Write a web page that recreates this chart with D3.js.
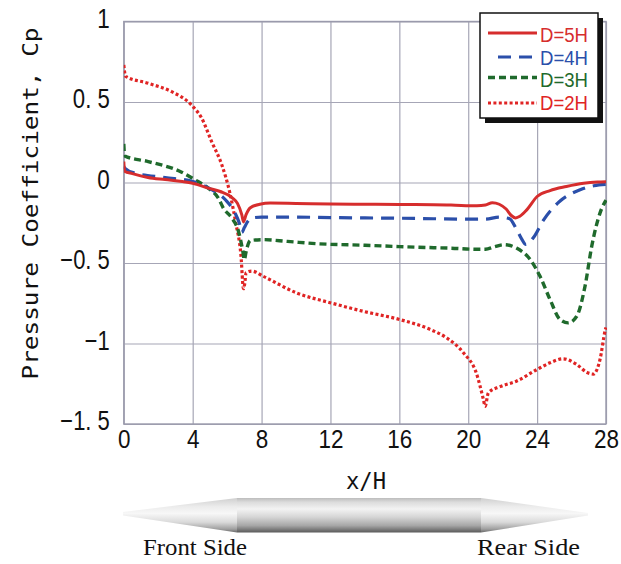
<!DOCTYPE html>
<html>
<head>
<meta charset="utf-8">
<script src="https://cdn.jsdelivr.net/npm/d3@7"></script>
<style>
  html, body { margin: 0; padding: 0; background: #ffffff; }
  svg { display: block; }
</style>
</head>
<body>
<script>
// ---------- DATA ----------
const xTicks = [0, 4, 8, 12, 16, 20, 24, 28];
const xTickLabels = ["0", "4", "8", "12", "16", "20", "24", "28"];
const yTicks = [1, 0.5, 0, -0.5, -1, -1.5];
const yTickLabels = ["1", "0. 5", "0", "\u22120. 5", "\u22121", "\u22121. 5"];
const seriesNames = ["D=5H", "D=4H", "D=3H", "D=2H"];

const d5x = [0, 0.05, 0.5, 1.4, 2.4, 3.4, 4.0, 4.9, 5.6, 6.3, 6.6, 6.85, 6.95, 7.1, 7.35, 7.9, 8.5, 10, 12, 14, 16, 18, 19, 20.5, 21, 21.4, 21.8, 22.2, 22.5, 22.75, 23.0, 23.4, 24.0, 24.75, 25.7, 26.7, 27.5, 28];
const d5y = [0.13, 0.07, 0.055, 0.031, 0.018, 0.006, -0.005, -0.035, -0.056, -0.095, -0.13, -0.2, -0.245, -0.2, -0.157, -0.135, -0.128, -0.13, -0.133, -0.135, -0.137, -0.138, -0.14, -0.145, -0.14, -0.125, -0.135, -0.165, -0.205, -0.22, -0.21, -0.17, -0.087, -0.05, -0.025, -0.005, 0.003, 0.005];

const d4x = [0, 0.05, 0.65, 2.4, 4.0, 5.1, 5.9, 6.46, 6.7, 6.85, 7.0, 7.15, 7.45, 8, 10, 12, 14, 16, 18, 20, 21, 21.8, 22.4, 22.8, 23.1, 23.35, 23.8, 24.36, 25.3, 26.5, 27.3, 28];
const d4y = [0.1, 0.09, 0.058, 0.031, 0.006, -0.045, -0.107, -0.19, -0.25, -0.31, -0.28, -0.25, -0.22, -0.215, -0.215, -0.218, -0.22, -0.222, -0.225, -0.228, -0.228, -0.215, -0.225, -0.29, -0.35, -0.385, -0.34, -0.235, -0.118, -0.045, -0.02, -0.012];

const d3x = [0, 0.05, 1.42, 3.36, 4.13, 4.9, 5.49, 5.78, 6.27, 6.65, 6.9, 7.0, 7.1, 7.35, 8.1, 9.5, 11.2, 14, 16, 18, 19, 20.5, 21, 21.5, 22.1, 22.8, 23.6, 24.17, 24.75, 25.33, 25.8, 26.3, 26.78, 27.17, 27.65, 28];
const d3y = [0.24, 0.165, 0.13, 0.064, 0.017, -0.035, -0.097, -0.159, -0.22, -0.30, -0.42, -0.48, -0.43, -0.36, -0.355, -0.366, -0.38, -0.39, -0.398, -0.405, -0.408, -0.415, -0.415, -0.40, -0.386, -0.407, -0.479, -0.583, -0.727, -0.851, -0.872, -0.831, -0.645, -0.397, -0.19, -0.11];

const d2x = [0, 0.1, 1.42, 2.78, 3.94, 4.52, 5.1, 5.69, 6.17, 6.5, 6.8, 6.95, 7.02, 7.1, 7.43, 8.1, 10.04, 12.03, 13.9, 16.02, 17.8, 18.75, 19.72, 20.49, 20.88, 20.98, 21.17, 21.85, 22.8, 24.0, 24.75, 25.5, 26.3, 26.9, 27.27, 27.65, 27.95, 28];
const d2y = [0.73, 0.66, 0.616, 0.564, 0.48, 0.40, 0.254, 0.11, -0.07, -0.25, -0.45, -0.66, -0.63, -0.56, -0.55, -0.583, -0.686, -0.748, -0.8, -0.851, -0.913, -0.965, -1.058, -1.19, -1.347, -1.39, -1.306, -1.268, -1.234, -1.161, -1.12, -1.095, -1.13, -1.18, -1.19, -1.10, -0.92, -0.90];

// ---------- CHART ----------
const W = 621, H = 564;
const L = 123.8, R = 606, T = 21.5, B = 424;

const svg = d3.select("body").append("svg").attr("width", W).attr("height", H);

const x = d3.scaleLinear().domain([0, 28]).range([L, R]);
const y = d3.scaleLinear().domain([-1.5, 1]).range([B, T]);

const gridColor = "#a6a6b6";

function charW(s) {
  let w = 0;
  for (const c of s) w += (c === "." || c === " ") ? 6 : 12.5;
  return w;
}

// x axis grid + labels
const gx = svg.append("g").attr("transform", `translate(0,${B})`)
  .call(d3.axisBottom(x).tickValues(xTicks).tickSize(-(B - T))
        .tickFormat((d, i) => xTickLabels[i]));
gx.select(".domain").remove();
gx.selectAll(".tick line").attr("stroke", gridColor).attr("stroke-width", 1.2);
gx.selectAll(".tick text")
  .attr("y", 24).attr("dy", 0)
  .attr("font-family", "'Liberation Sans', Arial, sans-serif")
  .attr("font-size", 26).attr("fill", "#111")
  .attr("textLength", function() { return charW(this.textContent); })
  .attr("lengthAdjust", "spacingAndGlyphs");

// y axis grid + labels
const gy = svg.append("g").attr("transform", `translate(${L},0)`)
  .call(d3.axisLeft(y).tickValues(yTicks).tickSize(-(R - L))
        .tickFormat((d, i) => yTickLabels[i]));
gy.select(".domain").remove();
gy.selectAll(".tick line").attr("stroke", gridColor).attr("stroke-width", 1.2);
gy.selectAll(".tick text")
  .attr("x", -14).attr("dy", "0.22em")
  .attr("font-family", "'Liberation Sans', Arial, sans-serif")
  .attr("font-size", 27).attr("fill", "#111")
  .attr("textLength", function() { return charW(this.textContent); })
  .attr("lengthAdjust", "spacingAndGlyphs");

// frame
svg.append("rect").attr("x", L).attr("y", T).attr("width", R - L).attr("height", B - T)
  .attr("fill", "none").attr("stroke", "#9a9aac").attr("stroke-width", 1.4);

// axis titles
svg.append("text")
  .attr("transform", `translate(38,${(27 + 380) / 2}) rotate(-90)`)
  .attr("text-anchor", "middle")
  .attr("font-family", "'DejaVu Sans Mono', monospace")
  .attr("font-size", 21).attr("fill", "#111")
  .attr("textLength", 352).attr("lengthAdjust", "spacingAndGlyphs")
  .text("Pressure Coefficient, Cp");

svg.append("text")
  .attr("x", 366).attr("y", 489)
  .attr("text-anchor", "middle")
  .attr("font-family", "'DejaVu Sans Mono', monospace")
  .attr("font-size", 23).attr("fill", "#111")
  .attr("textLength", 40).attr("lengthAdjust", "spacingAndGlyphs")
  .text("x/H");

// clip
svg.append("clipPath").attr("id", "clip").append("rect")
  .attr("x", L).attr("y", T - 2).attr("width", R - L + 1).attr("height", B - T + 4);

const series = [
  { xs: d5x, ys: d5y, color: "#d62d2d", width: 3, dash: null },
  { xs: d4x, ys: d4y, color: "#2b4faa", width: 3.2, dash: "13,8" },
  { xs: d3x, ys: d3y, color: "#1f6a2c", width: 3.4, dash: "7,4" },
  { xs: d2x, ys: d2y, color: "#e02424", width: 3.2, dash: "3,2.4" }
];

const line = d3.line().x(d => x(d[0])).y(d => y(d[1])).curve(d3.curveMonotoneX);

const gLines = svg.append("g").attr("clip-path", "url(#clip)");
series.slice().reverse().forEach(s => {
  const pts = s.xs.map((v, i) => [v, s.ys[i]]);
  gLines.append("path").datum(pts)
    .attr("d", line)
    .attr("fill", "none")
    .attr("stroke", s.color)
    .attr("stroke-width", s.width)
    .attr("stroke-dasharray", s.dash)
    .attr("stroke-linejoin", "round");
});

// legend
const lg = svg.append("g");
lg.append("rect").attr("x", 485).attr("y", 18).attr("width", 118).attr("height", 105).attr("fill", "#111");
lg.append("rect").attr("x", 480).attr("y", 13).attr("width", 118).attr("height", 105)
  .attr("fill", "#fff").attr("stroke", "#111").attr("stroke-width", 1.5);
const lineYs = [33, 57, 77.5, 103];
const textYs = [41.5, 64.5, 86.5, 109.5];
seriesNames.forEach((name, i) => {
  const s = series[i];
  lg.append("line")
    .attr("x1", i === 1 ? 498 : 488).attr("x2", 537)
    .attr("y1", lineYs[i]).attr("y2", lineYs[i])
    .attr("stroke", s.color).attr("stroke-width", s.width)
    .attr("stroke-dasharray", s.dash);
  lg.append("text")
    .attr("x", 588).attr("y", textYs[i])
    .attr("text-anchor", "end")
    .attr("font-family", "'Liberation Sans', Arial, sans-serif")
    .attr("font-size", 20.5).attr("fill", s.color)
    .attr("textLength", 48).attr("lengthAdjust", "spacingAndGlyphs")
    .text(name);
});

// bottom spindle
const defs = svg.append("defs");
const gr = defs.append("linearGradient").attr("id", "body").attr("x1", 0).attr("x2", 0).attr("y1", 0).attr("y2", 1);
[["0%", "#bdbdbd"], ["12%", "#dcdcdc"], ["32%", "#f3f3f3"], ["55%", "#d6d6d6"], ["80%", "#a6a6a6"], ["100%", "#5a5a5a"]]
  .forEach(s => gr.append("stop").attr("offset", s[0]).attr("stop-color", s[1]));
const gr2 = defs.append("linearGradient").attr("id", "cone").attr("x1", 0).attr("x2", 0).attr("y1", 0).attr("y2", 1);
[["0%", "#cfcfcf"], ["25%", "#ececec"], ["45%", "#f7f7f7"], ["70%", "#dadada"], ["90%", "#a0a0a0"], ["100%", "#6a6a6a"]]
  .forEach(s => gr2.append("stop").attr("offset", s[0]).attr("stop-color", s[1]));

svg.append("path")
  .attr("d", "M237,498 L481,498 L481,532.5 L237,532.5 Z")
  .attr("fill", "url(#body)");
svg.append("path")
  .attr("d", "M123,512 L237,498 L237,532.5 L123,515.5 Z")
  .attr("fill", "url(#cone)");
svg.append("path")
  .attr("d", "M481,498 L588,513 L588,515.5 L481,532.5 Z")
  .attr("fill", "url(#cone)");

svg.append("text").attr("x", 143).attr("y", 555)
  .attr("font-family", "'Liberation Serif', 'Times New Roman', serif")
  .attr("font-size", 23).attr("fill", "#111")
  .attr("textLength", 104).attr("lengthAdjust", "spacingAndGlyphs")
  .text("Front Side");
svg.append("text").attr("x", 477).attr("y", 555)
  .attr("font-family", "'Liberation Serif', 'Times New Roman', serif")
  .attr("font-size", 23).attr("fill", "#111")
  .attr("textLength", 103).attr("lengthAdjust", "spacingAndGlyphs")
  .text("Rear Side");
</script>
</body>
</html>
